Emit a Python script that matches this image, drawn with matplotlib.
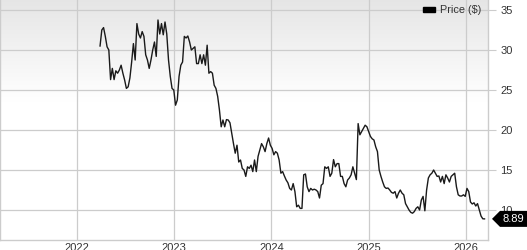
import numpy as np
import pandas as pd
import matplotlib
matplotlib.use("Agg")
import matplotlib.pyplot as plt
from matplotlib.patches import Patch, Polygon

# ---- data (weekly closing price) ----
start_date = "2022-03-28"
end_date = "2026-03-12"
prices = [
    30.5, 32.5, 32.8, 31.7, 30.4, 30.0, 26.3, 27.7, 26.3, 27.4, 27.1, 27.5, 28.1, 27.1,
    26.25, 25.2, 25.4, 26.5, 28.5, 30.8, 28.75, 33.3, 32.0, 31.5, 32.3, 31.7, 29.4, 28.75,
    27.7, 28.75, 30.0, 31.0, 29.2, 33.75, 32.0, 33.3, 31.9, 33.5, 32.0, 28.75, 26.7, 25.2,
    25.0, 23.1, 23.75, 26.7, 28.1, 28.5, 31.7, 31.5, 31.75, 31.0, 30.0, 30.2, 30.4, 28.3,
    28.3, 29.4, 28.3, 29.4, 28.1, 30.6, 27.1, 27.3, 27.1, 25.6, 25.2, 24.2, 22.5, 20.4,
    21.25, 20.4, 21.3, 21.25, 20.9, 19.6, 18.3, 17.1, 18.1, 16.0, 16.25, 15.2, 15.0, 14.2,
    15.4, 15.2, 15.6, 14.8, 16.25, 14.8, 16.7, 17.5, 18.3, 17.9, 17.3, 18.3, 19.0, 18.1,
    17.7, 16.9, 17.3, 17.1, 16.25, 14.6, 14.8, 14.25, 13.75, 13.4, 12.7, 12.5, 13.3, 12.3,
    10.4, 10.6, 10.2, 10.2, 14.4, 14.5, 12.9, 12.3, 12.7, 12.5, 12.6, 12.5, 12.3, 11.5,
    13.1, 13.3, 15.4, 15.2, 15.4, 14.2, 14.6, 16.3, 15.4, 15.8, 15.8, 14.2, 14.2, 13.3,
    12.9, 13.75, 14.0, 14.4, 15.4, 14.6, 13.8, 20.8, 19.4, 19.8, 20.2, 20.6, 20.4, 19.8,
    19.2, 18.9, 18.75, 17.9, 17.3, 15.0, 14.2, 13.5, 12.9, 12.7, 12.75, 12.5, 12.2, 12.1,
    12.3, 11.5, 12.1, 12.5, 12.1, 11.9, 10.8, 10.4, 10.0, 9.7, 9.6, 9.8, 10.2, 10.4,
    10.0, 11.25, 11.7, 9.9, 12.5, 14.0, 14.4, 14.6, 15.0, 14.6, 14.2, 14.25, 13.5, 14.2,
    13.3, 14.4, 14.0, 13.5, 14.2, 14.4, 14.6, 12.9, 11.9, 11.75, 11.75, 11.9, 11.7, 12.7,
    12.3, 11.0, 10.75, 10.9, 10.5, 10.8, 10.0, 9.25, 8.9, 8.89,
]
y_ticks = [10, 15, 20, 25, 30, 35]
x_tick_years = [2022, 2023, 2024, 2025, 2026]
legend_label = "Price ($)"
last_label = "8.89"

dates = pd.date_range(start=start_date, end=end_date, periods=len(prices))

plt.rcParams['font.family'] = ['Liberation Sans', 'DejaVu Sans']

W, H = 527, 250
fig = plt.figure(figsize=(W / 100, H / 100), dpi=100)
ax = fig.add_axes([0.0, 1 - 240 / H, 488 / W, 240 / H])

grid_c = "#cccccc"
text_c = "#333333"

# gradient background
grad = np.ones((256, 1, 3))
t = np.linspace(0, 1, 256)  # 0 at top
shade = np.clip(t / 0.42, 0, 1)
top_v = 0.90
vals = top_v + (1 - top_v) * shade
grad[:, 0, 0] = vals
grad[:, 0, 1] = vals
grad[:, 0, 2] = vals
ax.imshow(grad, extent=[0, 1, 0, 1], transform=ax.transAxes, aspect="auto",
          zorder=0, interpolation="bilinear")

ax.plot(dates, prices, color="#1a1a1a", lw=1.0, zorder=3)

ax.set_xlim(pd.Timestamp("2021-03-17"), pd.Timestamp("2026-03-25"))
ax.set_ylim(6.25, 36.25)

ax.set_yticks(y_ticks)
ax.yaxis.tick_right()
ax.tick_params(axis="y", direction="out", length=6, color=grid_c, labelsize=8,
               labelcolor=text_c, pad=3)
xt = [pd.Timestamp(f"{y}-01-01") for y in x_tick_years]
ax.set_xticks(xt)
ax.set_xticklabels([str(y) for y in x_tick_years])
ax.tick_params(axis="x", length=0, labelsize=8, labelcolor=text_c, pad=2)

ax.grid(True, color=grid_c, lw=0.9, zorder=1)
ax.set_axisbelow(True)
for side, sp in ax.spines.items():
    sp.set_color(grid_c)
    sp.set_linewidth(1.0)
ax.spines["top"].set_visible(False)

leg = ax.legend(handles=[Patch(facecolor="black", edgecolor="black", label=legend_label)],
                loc="upper right", bbox_to_anchor=(1.0, 1.005), frameon=False,
                fontsize=7.8, handlelength=1.1, handleheight=0.45, handletextpad=0.45,
                borderaxespad=0.2)
for txt in leg.get_texts():
    txt.set_color(text_c)

# last value marker
fig.canvas.draw()
px, py = ax.transData.transform((0, prices[-1]))
x_right = ax.transAxes.transform((1, 0))[0]
tip = x_right + 4
h = 8
poly = Polygon([[tip, py], [tip + 8, py + h], [W + 2, py + h], [W + 2, py - h], [tip + 8, py - h]],
               closed=True, transform=None, facecolor="black", edgecolor="none", zorder=10)
fig.add_artist(poly)
fig.text((tip + 8 + W) / 2 / W, py / H, last_label, color="white", fontsize=8,
         ha="center", va="center", zorder=11)

fig.savefig("out.png", dpi=100)
